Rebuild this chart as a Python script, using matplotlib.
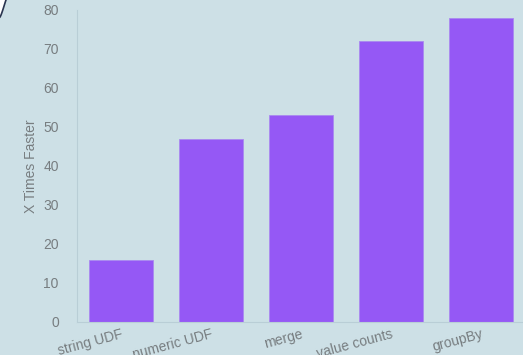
import matplotlib.pyplot as plt
import numpy as np
from matplotlib.patches import Polygon

plt.rcParams['font.family'] = ['Liberation Sans', 'DejaVu Sans']

ops = ['string UDF', 'numeric UDF', 'merge', 'value counts', 'groupBy']
speedup = [16, 47, 53, 72, 78]

bg = '#cde0e6'
txt = '#777d80'

fig = plt.figure(figsize=(5.23, 3.55), dpi=100, facecolor=bg)
ax = fig.add_axes([0.147, 0.093, 0.853, 0.879])
ax.set_facecolor(bg)

x = np.arange(len(ops))
ax.bar(x, speedup, width=0.71, color='#9558f5', edgecolor='#a98af0', linewidth=0.6)

ax.set_xlim(-0.49, 4.47)
ax.set_ylim(0, 80)
ax.set_yticks(range(0, 81, 10))
ax.set_xticks(x)
ax.set_xticklabels(ops, rotation=15, ha='right', rotation_mode='anchor')
ax.tick_params(axis='both', length=0, colors=txt, labelsize=10)
ax.tick_params(axis='y', pad=13)
ax.tick_params(axis='x', pad=4)
ax.set_ylabel('X Times Faster', color=txt, fontsize=10, labelpad=4)

for s in ['top', 'right']:
    ax.spines[s].set_visible(False)
for s in ['left', 'bottom']:
    ax.spines[s].set_color('#b9ced6')
    ax.spines[s].set_linewidth(0.8)

# rounded frame corner, top left
t = np.linspace(0, 1, 20)
px = 6 * t ** 0.8
py = 17 * (1 - t) ** 1.1
W, H = 523, 355
pts = [(px[i] / W, 1 - py[i] / H) for i in range(len(t))]
fig.patches.append(Polygon(pts + [(0, 1)], closed=True, transform=fig.transFigure,
                           facecolor='white', edgecolor='none'))
fig.lines.append(plt.Line2D([p[0] for p in pts], [p[1] for p in pts],
                            transform=fig.transFigure, color='#2a3550', linewidth=1.2))

fig.savefig('out.png', dpi=100, facecolor=bg)
